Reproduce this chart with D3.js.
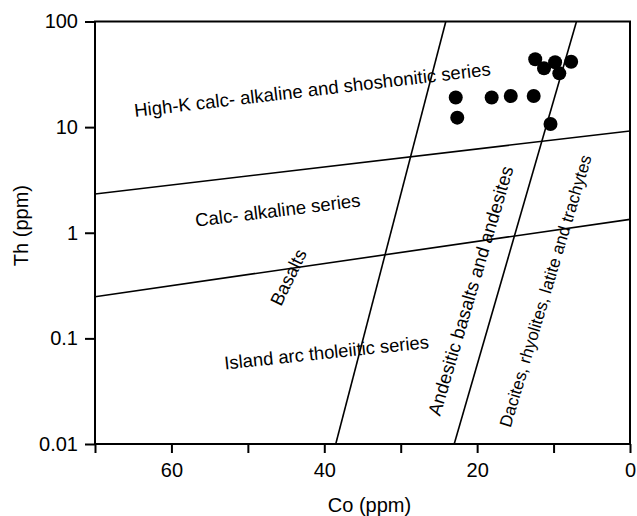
<!DOCTYPE html>
<html>
<head>
<meta charset="utf-8">
<script src="https://cdn.jsdelivr.net/npm/d3@7"></script>
<style>
  body { margin: 0; background: #fff; }
  svg { display: block; font-family: "Liberation Sans", Arial, sans-serif; }
</style>
</head>
<body>
<svg id="chart" width="637" height="516"></svg>
<script>
// ---- data ----
const coValues = [12.4, 11.25, 9.8, 9.25, 7.7, 22.8, 22.6, 18.1, 15.6, 12.6, 10.4];
const thValues = [43.9, 36.0, 41.1, 32.3, 41.6, 19.1, 12.3, 19.1, 19.7, 19.7, 10.7];

const xTicks = [70, 60, 50, 40, 30, 20, 10, 0];
const xTickLabels = ["", "60", "", "40", "", "20", "", "0"];
const yTicks = [0.01, 0.1, 1, 10, 100];
const yTickLabels = ["0.01", "0.1", "1", "10", "100"];

// boundary lines: [Co, Th] endpoints
const lineUpperCo = [70, 0];
const lineUpperTh = [2.33, 9.2];
const lineLowerCo = [70, 0];
const lineLowerTh = [0.248, 1.34];
const lineBasaltCo = [38.5, 24.1];
const lineBasaltTh = [0.01, 100];
const lineAndesiteCo = [23.0, 7.0];
const lineAndesiteTh = [0.01, 100];

const fieldLabels = [
  "High-K calc- alkaline and shoshonitic series",
  "Calc- alkaline series",
  "Island arc tholeiitic series",
  "Basalts",
  "Andesitic basalts and andesites",
  "Dacites, rhyolites, latite and trachytes"
];
const fieldLabelCo = [64.77, 56.79, 52.99, 45.66, 24.86, 15.64];
const fieldLabelTh = [12.47, 1.14, 0.0508, 0.198, 0.0181, 0.0141];

// ---- layout ----
const labelAngles = [-6.7, -7.0, -6.0, -64, -73.5, -73.3];
const labelSizes = [18.6, 18.6, 18.4, 18.3, 18.5, 17.1];
const pLeft = 95, pRight = 630, pTop = 21.5, pBottom = 444;

const svg = d3.select("#chart");
const x = d3.scaleLinear().domain([70, 0]).range([pLeft, pRight]);
const y = d3.scaleLog().domain([0.01, 100]).range([pBottom, pTop]);

// axes
const xAxis = d3.axisBottom(x)
  .tickValues(xTicks)
  .tickFormat((d, i) => xTickLabels[i])
  .tickSize(9).tickPadding(9.5);
const yAxis = d3.axisLeft(y)
  .tickValues(yTicks)
  .tickFormat((d, i) => yTickLabels[i])
  .tickSize(10).tickPadding(7);

const gx = svg.append("g").attr("transform", `translate(0,${pBottom})`).call(xAxis);
const gy = svg.append("g").attr("transform", `translate(${pLeft},0)`).call(yAxis);
[gx, gy].forEach(g => {
  g.select(".domain").remove();
  g.selectAll(".tick line").attr("stroke", "#000").attr("stroke-width", 2);
  g.selectAll(".tick text").attr("fill", "#000").style("font-size", "20px")
    .style("font-family", '"Liberation Sans", Arial, sans-serif');
});

// boundary lines
const clipId = "plotclip";
svg.append("clipPath").attr("id", clipId).append("rect")
  .attr("x", pLeft).attr("y", pTop).attr("width", pRight - pLeft).attr("height", pBottom - pTop);
const lines = [
  [lineUpperCo, lineUpperTh],
  [lineLowerCo, lineLowerTh],
  [lineBasaltCo, lineBasaltTh],
  [lineAndesiteCo, lineAndesiteTh]
];
const lineGen = d3.line().x(d => x(d[0])).y(d => y(d[1]));
svg.append("g").attr("clip-path", `url(#${clipId})`)
  .selectAll("path").data(lines).join("path")
  .attr("d", l => lineGen(l[0].map((c, i) => [c, l[1][i]])))
  .attr("fill", "none").attr("stroke", "#000").attr("stroke-width", 1.6);

// field labels
svg.append("g").selectAll("text").data(fieldLabels).join("text")
  .attr("transform", (d, i) => `translate(${x(fieldLabelCo[i])},${y(fieldLabelTh[i])}) rotate(${labelAngles[i]})`)
  .attr("fill", "#000")
  .style("font-size", (d, i) => labelSizes[i] + "px")
  .text(d => d);

// frame
svg.append("rect")
  .attr("x", pLeft).attr("y", pTop).attr("width", pRight - pLeft).attr("height", pBottom - pTop)
  .attr("fill", "none").attr("stroke", "#000").attr("stroke-width", 2);

// points
svg.append("g").selectAll("circle").data(coValues).join("circle")
  .attr("cx", d => x(d))
  .attr("cy", (d, i) => y(thValues[i]))
  .attr("r", 7)
  .attr("fill", "#000");

// axis titles
svg.append("text")
  .attr("x", (pLeft + pRight) / 2 + 7).attr("y", 511.5)
  .attr("text-anchor", "middle").style("font-size", "20px").attr("fill", "#000")
  .text("Co (ppm)");
svg.append("text")
  .attr("transform", `translate(27.5,225.6) rotate(-90)`)
  .attr("text-anchor", "middle").style("font-size", "20px").attr("fill", "#000")
  .text("Th (ppm)");
</script>
</body>
</html>
